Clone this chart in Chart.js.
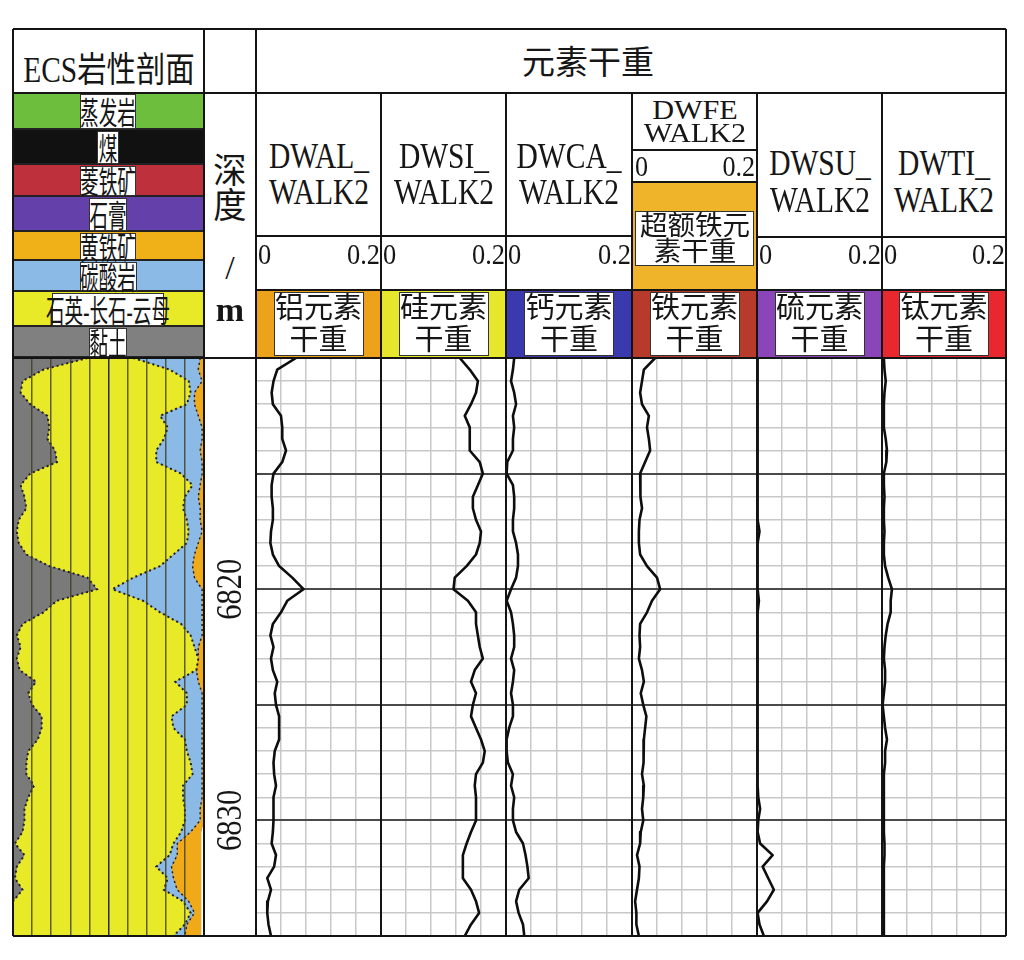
<!DOCTYPE html>
<html><head><meta charset="utf-8">
<script src="https://cdn.jsdelivr.net/npm/chart.js@4.4.1/dist/chart.umd.min.js"></script>
<style>
body{margin:0;background:#fff;}
#root{position:relative;width:1024px;height:960px;overflow:hidden;background:#fff;font-family:"Liberation Serif","Noto Sans CJK SC",serif;color:#161616;}
</style></head><body><div id="root"></div>
<script>
// ---------------- data ----------------
const depth = [6810,6810.5,6811,6811.5,6812,6812.5,6813,6813.5,6814,6814.5,6815,6815.5,6816,6816.5,6817,6817.5,6818,6818.5,6819,6819.5,6820,6820.5,6821,6821.5,6822,6822.5,6823,6823.5,6824,6824.5,6825,6825.5,6826,6826.5,6827,6827.5,6828,6828.5,6829,6829.5,6830,6830.5,6831,6831.5,6832,6832.5,6833,6833.5,6834,6834.5,6835];

const dwal = [0.064,0.034,0.028,0.025,0.027,0.040,0.042,0.042,0.048,0.042, 0.028,0.025,0.025,0.027,0.027,0.024,0.023,0.027,0.037,0.058, 0.076,0.050,0.040,0.027,0.023,0.028,0.024,0.027,0.034,0.030, 0.032,0.037,0.037,0.037,0.030,0.028,0.029,0.032,0.028,0.028, 0.028,0.027,0.025,0.032,0.029,0.018,0.024,0.019,0.018,0.020, 0.024];
const dwsi = [0.126,0.142,0.155,0.152,0.144,0.134,0.142,0.142,0.142,0.158, 0.163,0.155,0.147,0.147,0.152,0.160,0.158,0.152,0.137,0.118, 0.116,0.139,0.152,0.152,0.155,0.158,0.163,0.150,0.144,0.152, 0.147,0.144,0.152,0.160,0.166,0.163,0.152,0.150,0.152,0.152, 0.152,0.144,0.137,0.131,0.131,0.131,0.144,0.152,0.157,0.144, 0.134];
const dwca = [0.013,0.011,0.008,0.013,0.016,0.011,0.013,0.011,0.011,0.002, 0.001,0.011,0.013,0.013,0.011,0.011,0.016,0.019,0.019,0.016, 0.008,0.001,0.008,0.011,0.013,0.013,0.008,0.013,0.011,0.008, 0.011,0.011,0.005,0.001,0.001,0.003,0.011,0.008,0.013,0.011, 0.011,0.016,0.027,0.031,0.034,0.036,0.021,0.016,0.020,0.027, 0.029];
const dwfe = [0.037,0.019,0.016,0.013,0.016,0.027,0.024,0.027,0.029,0.021, 0.013,0.013,0.014,0.016,0.012,0.011,0.011,0.013,0.024,0.040, 0.045,0.032,0.024,0.013,0.012,0.013,0.011,0.016,0.019,0.014, 0.018,0.023,0.021,0.019,0.019,0.018,0.016,0.019,0.018,0.016, 0.018,0.014,0.013,0.008,0.012,0.011,0.008,0.005,0.007,0.007, 0.011];
const dwsu = [0.001,0.001,0.001,0.001,0.001,0.001,0.001,0.001,0.001,0.001, 0.001,0.001,0.001,0.001,0.001,0.004,0.001,0.001,0.001,0.001, 0.001,0.003,0.001,0.001,0.001,0.001,0.001,0.001,0.001,0.001, 0.001,0.001,0.001,0.001,0.001,0.001,0.001,0.001,0.002,0.005, 0.002,0.001,0.005,0.025,0.009,0.018,0.027,0.016,0.001,0.004, 0.011];
const dwti = [0.003,0.004,0.006,0.004,0.003,0.003,0.003,0.006,0.008,0.007, 0.003,0.003,0.004,0.003,0.003,0.004,0.003,0.003,0.005,0.010, 0.016,0.014,0.014,0.009,0.006,0.004,0.003,0.005,0.005,0.003, 0.001,0.003,0.005,0.008,0.005,0.005,0.003,0.003,0.003,0.003, 0.003,0.003,0.004,0.004,0.003,0.003,0.003,0.003,0.003,0.003, 0.003];

// lithology: cumulative right edge of each mineral group (fraction 0..1)
const clayTop = [0.39,0.16,0.05,0.04,0.09,0.18,0.19,0.18,0.22,0.23, 0.09,0.04,0.06,0.07,0.03,0.02,0.03,0.07,0.19,0.39, 0.44,0.23,0.16,0.05,0.02,0.04,0.02,0.035,0.12,0.08, 0.10,0.15,0.15,0.13,0.08,0.07,0.07,0.11,0.08,0.06, 0.06,0.05,0.01,0.06,0.02,0.01,0.05,0.00,0.00,0.00, 0.00];
const qfmTop = [0.63,0.82,0.92,0.93,0.91,0.77,0.81,0.79,0.75,0.75, 0.88,0.94,0.90,0.89,0.91,0.92,0.91,0.84,0.77,0.63, 0.52,0.68,0.77,0.88,0.93,0.95,0.97,0.96,0.85,0.91, 0.91,0.83,0.84,0.90,0.91,0.93,0.94,0.89,0.89,0.90, 0.90,0.88,0.84,0.82,0.75,0.81,0.79,0.89,0.93,0.90, 0.84];
const carbTop = [0.98,0.97,0.99,0.95,0.95,0.97,0.99,0.99,0.98,0.99, 0.99,0.98,0.97,0.98,0.98,0.99,0.97,0.95,0.94,0.95, 0.99,0.99,0.99,0.99,0.99,0.97,0.97,0.96,0.97,0.99, 0.99,0.99,0.99,0.99,0.99,0.99,0.99,0.99,0.99,0.98, 0.98,0.93,0.86,0.86,0.83,0.84,0.86,0.92,0.95,0.91, 0.90];
const pyriteTop = [1,1,1,1,1,1,1,1,1,1, 1,1,1,1,1,1,1,1,1,1, 1,1,1,1,1,1,1,1,1,1, 1,1,1,1,1,1,1,1,1,1, 1,0.985,0.985,0.985,0.985,0.985,0.985,0.985,0.985,0.985, 0.985];

const depthMin = 6810, depthMax = 6835;
const depthLabels = [6820, 6830];
const trackTicks = [0, 0.04, 0.08, 0.12, 0.16, 0.2];
const lithoTicks = [0,0.1,0.2,0.3,0.4,0.5,0.6,0.7,0.8,0.9,1];
const scaleLeft = '0', scaleRight = '0.2';

const trackNames = [['DWAL_','WALK2'],['DWSI_','WALK2'],['DWCA_','WALK2'],['DWFE','WALK2'],['DWSU_','WALK2'],['DWTI_','WALK2']];
const trackLabels = [['铝元素','干重'],['硅元素','干重'],['钙元素','干重'],['铁元素','干重'],['硫元素','干重'],['钛元素','干重']];
const trackSeries = [dwal, dwsi, dwca, dwfe, dwsu, dwti];
const legendNames = ['蒸发岩','煤','菱铁矿','石膏','黄铁矿','碳酸岩','石英-长石-云母','黏土'];

// ---------------- layout helpers ----------------
const root = document.getElementById('root');
function el(tag, css){ const e=document.createElement(tag); e.style.cssText=css; root.appendChild(e); return e; }
function rect(x,y,w,h,bg,extra){ return el('div',`position:absolute;left:${x}px;top:${y}px;width:${w}px;height:${h}px;background:${bg};box-sizing:border-box;${extra||''}`); }
function txt(s,x,y,size,sx,align,extra){
  align = align||'c';
  const tr = align==='c'?'translate(-50%,-50%)':align==='l'?'translate(0,-50%)':'translate(-100%,-50%)';
  const org = align==='c'?'center center':align==='l'?'left center':'right center';
  const e = el('div',`position:absolute;left:${x}px;top:${y}px;font-size:${size}px;line-height:1;white-space:nowrap;transform:${tr} scaleX(${sx});transform-origin:${org};z-index:5;${extra||''}`);
  e.textContent=s; return e;
}
function hl(x1,x2,y,w){ rect(x1,y-w/2,x2-x1,w,'#141414','z-index:4;'); }
function vl(x,y1,y2,w){ rect(x-w/2,y1,w,y2-y1,'#141414','z-index:4;'); }

const L=13, R=1006, T=29, B=936, HR=93, PT=358;
const trackX = [256,381,506,632,757,882,1006];

// ---------------- header: lithology legend ----------------
const bandTops = [93,130,165,197,232,261,292,327,358];
const bandColors = ['#6cbe3c','#111111','#be303c','#6440aa','#f0b018','#8cbae6','#e8ea28','#808080'];
const bandBoxW = [56,22,56,38,56,57,112,38];
legendNames.forEach((n,i)=>{
  const y0=bandTops[i], y1=bandTops[i+1];
  rect(L, y0, 204-L, y1-y0, bandColors[i], 'border-bottom:2px solid #222;');
  const cy=(y0+y1)/2;
  rect(108-bandBoxW[i]/2, y0+1, bandBoxW[i], y1-y0-2, '#fff', 'border:1.5px solid #333;z-index:3;');
  txt(n, 108, cy+1, 31, 0.6, 'c');
});

// ---------------- header: titles ----------------
txt('ECS岩性剖面', 109, 70, 35, 0.84, 'c');
txt('元素干重', 588, 63, 33, 1.0, 'c');
txt('深', 230, 171, 35, 0.95, 'c');
txt('度', 230, 206, 35, 0.95, 'c');
txt('/', 230, 268, 34, 1, 'c');
txt('m', 230, 310, 34, 1, 'c', 'font-weight:bold;');

// ---------------- header: tracks ----------------
const stripColors = ['#eda21c','#e6e62c','#3a3aae','#b83a2a','#8a46b8','#e8282e'];
trackNames.forEach((nm,i)=>{
  const x0=trackX[i], x1=trackX[i+1], cx=(x0+x1)/2;
  rect(x0, 290, x1-x0, PT-290, stripColors[i]);
  rect(cx-45, 292, 90, 64, '#fff', 'border:1.5px solid #333;z-index:3;');
  txt(trackLabels[i][0], cx, 308, 29, 1, 'c');
  txt(trackLabels[i][1], cx, 340, 29, 1, 'c');
  if (i===3) {
    txt(nm[0], cx, 110, 28, 1.08, 'c');
    txt(nm[1], cx, 133, 28, 1.08, 'c');
    txt(scaleLeft, x0+3, 166, 29, 0.9, 'l');
    txt(scaleRight, x1-2, 166, 29, 0.9, 'r');
    rect(x0, 182, x1-x0, 290-182, '#f0b42a');
    rect(x0+3, 211, x1-x0-6, 55, '#fff', 'border:1.5px solid #333;z-index:3;');
    txt('超额铁元', cx, 226, 27, 1.02, 'c');
    txt('素干重', cx, 252, 27, 1.02, 'c');
  } else {
    const ya = i<3 ? 156 : 163, yb = i<3 ? 192 : 200;
    txt(nm[0], cx, ya, 36, 0.82, 'c');
    txt(nm[1], cx, yb, 36, 0.82, 'c');
    txt(scaleLeft, x0+2, 254, 30, 0.88, 'l');
    txt(scaleRight, x1-1, 254, 30, 0.88, 'r');
  }
});

// ---------------- charts ----------------
function mkWrap(x,y,w,h){ return el('div',`position:absolute;left:${x}px;top:${y}px;width:${w}px;height:${h}px;z-index:1;`); }
function pts(arr){ return depth.map((d,i)=>({x:arr[i], y:d})); }
const depthGrid = []; for (let d=depthMin; d<=depthMax; d+=1) depthGrid.push(d);

const baseOpts = (xmin,xmax,xticks,xgrid,ygrid) => ({
  indexAxis:'y', animation:false, responsive:true, maintainAspectRatio:false, events:[],
  layout:{padding:0},
  plugins:{legend:{display:false}, tooltip:{enabled:false}},
  elements:{point:{radius:0}, line:{tension:0}},
  scales:{
    x:Object.assign({type:'linear', min:xmin, max:xmax, position:'top',
       afterBuildTicks:s=>{ s.ticks = xticks.map(v=>({value:v})); },
       ticks:{display:false}, border:{display:false}}, xgrid),
    y:Object.assign({type:'linear', reverse:true, min:depthMin, max:depthMax,
       afterBuildTicks:s=>{ s.ticks = depthGrid.map(v=>({value:v})); },
       ticks:{display:false}, border:{display:false}}, ygrid)
  }
});

// lithology column
(function(){
  const w = mkWrap(L, PT, 204-L, B-PT);
  const c = document.createElement('canvas'); w.appendChild(c);
  const dash = {borderColor:'#1e1e1e', borderWidth:2, borderDash:[2,3]};
  new Chart(c, {
    type:'line',
    data:{datasets:[
      Object.assign({label:'黏土', data:pts(clayTop), fill:'origin', backgroundColor:'#7a7a7a'}, dash),
      Object.assign({label:'石英-长石-云母', data:pts(qfmTop), fill:'-1', backgroundColor:'#e8ea28'}, dash),
      Object.assign({label:'碳酸岩', data:pts(carbTop), fill:'-1', backgroundColor:'#8cbae6'}, dash, {borderWidth:1.5}),
      {label:'黄铁矿', data:pts(pyriteTop), fill:'-1', backgroundColor:'#f0aa18', borderColor:'rgba(0,0,0,0)', borderWidth:0},
      {label:'石膏', data:pts(pyriteTop), fill:'end', backgroundColor:'#6440aa', borderColor:'rgba(0,0,0,0)', borderWidth:0}
    ]},
    options: baseOpts(0,1,lithoTicks,
      {grid:{z:1, drawTicks:false, color:c=>c.tick && Math.abs(c.tick.value-0.5)<1e-6 ? 'rgba(35,35,20,0.95)' : 'rgba(60,60,30,0.8)', lineWidth:1.5}},
      {grid:{display:false, drawTicks:false}})
  });
})();

// depth column
(function(){
  const w = mkWrap(204, PT, 52, B-PT);
  const c = document.createElement('canvas'); w.appendChild(c);
  const depthLabelPlugin = {
    id:'depthLabelPlugin',
    afterDraw(chart){
      const ctx = chart.ctx, ys = chart.scales.y;
      ctx.save();
      ctx.fillStyle = '#161616';
      ctx.font = '36px "Liberation Serif"';
      ctx.textAlign = 'center'; ctx.textBaseline = 'middle';
      depthLabels.forEach(v=>{
        const py = ys.getPixelForValue(v);
        ctx.save(); ctx.translate(26, py); ctx.rotate(-Math.PI/2); ctx.scale(0.85,1);
        ctx.fillText(String(v), 0, 2); ctx.restore();
      });
      ctx.restore();
    }
  };
  new Chart(c, {
    type:'line', data:{datasets:[]},
    options: baseOpts(0,1,[0,1],{display:false},{grid:{display:false, drawTicks:false}}),
    plugins:[depthLabelPlugin]
  });
})();

// element tracks
trackSeries.forEach((arr,i)=>{
  const x0=trackX[i], x1=trackX[i+1];
  const w = mkWrap(x0, PT, x1-x0, B-PT);
  const c = document.createElement('canvas'); w.appendChild(c);
  new Chart(c, {
    type:'line',
    data:{datasets:[{label:trackNames[i].join(''), data:pts(arr), fill:false, borderColor:'#0d0d0d', borderWidth:2.6, borderJoinStyle:'round'}]},
    options: baseOpts(0,0.2,trackTicks,
      {grid:{drawTicks:false, color:'#c8c8c8', lineWidth:1.5}},
      {grid:{drawTicks:false, color:c=>c.tick && c.tick.value%5===0 ? '#4a4a4a' : '#c8c8c8', lineWidth:c=>c.tick && c.tick.value%5===0 ? 2 : 1.5}})
  });
});

// ---------------- frame lines ----------------
hl(L,R,T,2.5); hl(L,R,B,2.5); vl(L,T,B,2.5); vl(R,T,B,2.5);
vl(204,T,B,2); vl(256,T,B,2);
hl(L,R,HR,2); hl(L,R,PT,2.5);
[381,506,632,757,882].forEach(x=>vl(x,HR,B,1.8));
hl(256,632,236,2); hl(757,1006,237,2); hl(256,1006,290,2);
hl(632,757,150,2); hl(632,757,182,2);
</script>
</body></html>
